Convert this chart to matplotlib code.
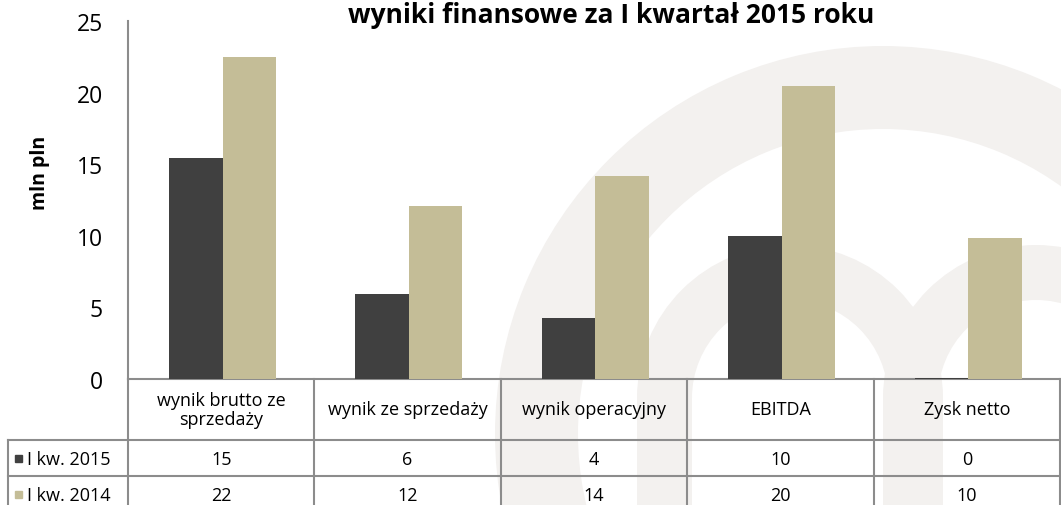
import matplotlib
matplotlib.use("Agg")
import matplotlib.pyplot as plt
from matplotlib.patches import Wedge, Rectangle
import numpy as np

plt.rcParams['font.family'] = ['Open Sans', 'DejaVu Sans']

# data
categories = ["wynik brutto ze\nsprzedaży", "wynik ze sprzedaży", "wynik operacyjny", "EBITDA", "Zysk netto"]
series_names = ["I kw. 2015", "I kw. 2014"]
values_2015 = [15.43, 5.94, 4.26, 9.99, 0.1]
values_2014 = [22.49, 12.08, 14.18, 20.46, 9.84]
yticks = [0, 5, 10, 15, 20, 25]
title = "wyniki finansowe za I kwartał 2015 roku"
ylabel = "mln pln"

colors = ["#404040", "#c4bd97"]
grid_col = "#8c8c8c"
wm_col = "#f3f1ef"

W, H = 1061, 506
fig = plt.figure(figsize=(W / 100, H / 100), dpi=100)

# background layer in pixel coordinates (watermark + table)
bg = fig.add_axes([0, 0, 1, 1], zorder=0)
bg.set_xlim(0, W)
bg.set_ylim(H, 0)
bg.axis("off")

# faint logo watermark
bg.add_patch(Wedge((883, 435), 388, 0, 360, width=83, color=wm_col, lw=0))
for cx in (790, 1036):
    bg.add_patch(Wedge((cx, 399), 153, 180, 360, width=55, color=wm_col, lw=0))
    bg.add_patch(Rectangle((cx - 153, 399), 55, 120, color=wm_col, lw=0))
    bg.add_patch(Rectangle((cx + 98, 399), 55, 120, color=wm_col, lw=0))

# plot area
L, R, T, B = 128, 1060, 22, 380
ax = fig.add_axes([L / W, 1 - B / H, (R - L) / W, (B - T) / H], zorder=2)
ax.set_facecolor("none")

n = len(categories)
x = np.arange(n) + 0.5
bw = 0.287
ax.bar(x - bw / 2 + 0.007, values_2015, bw, color=colors[0], zorder=3)
ax.bar(x + bw / 2 + 0.007, values_2014, bw, color=colors[1], zorder=3)

ax.set_xlim(0, n)
ax.set_ylim(0, 25)
ax.set_yticks(yticks)
ax.set_xticks([])
ax.tick_params(axis="y", length=0, pad=18, labelsize=16.5)
for s in ("top", "right", "bottom"):
    ax.spines[s].set_visible(False)
ax.spines["left"].set_color(grid_col)
ax.spines["left"].set_linewidth(1.5)

fig.text(611 / W, 1 - 23 / H, title, ha="center", va="baseline",
         fontsize=19, fontweight="bold")
fig.text(40 / W, 1 - 173 / H, ylabel, ha="center", va="center",
         rotation=90, fontsize=14, fontweight="bold")

# data table under the chart
col_w = (R - L) / n
rows_y = [B, 441, 477, 513]
lab_x0 = 8
lk = dict(color=grid_col, lw=1.5, zorder=3)
bg.plot([L, R], [rows_y[0], rows_y[0]], **lk)
for y in rows_y[1:]:
    bg.plot([lab_x0, R], [y, y], **lk)
bg.plot([lab_x0, lab_x0], [rows_y[1], H], **lk)
for i in range(n + 1):
    bg.plot([L + i * col_w, L + i * col_w], [rows_y[0], H], **lk)

for i, c in enumerate(categories):
    cx = L + (i + 0.5) * col_w
    bg.text(cx, (rows_y[0] + rows_y[1]) / 2, c, ha="center", va="center",
            fontsize=13, linespacing=1.05, zorder=4)
    for r, vals in enumerate([values_2015, values_2014]):
        bg.text(cx, (rows_y[r + 1] + rows_y[r + 2]) / 2 + 1, f"{vals[i]:.0f}",
                ha="center", va="center", fontsize=13, zorder=4)

for r, name in enumerate(series_names):
    yc = (rows_y[r + 1] + rows_y[r + 2]) / 2
    bg.add_patch(Rectangle((15, yc - 3.5), 7, 7, color=colors[r], zorder=4))
    bg.text(27, yc + 1, name, ha="left", va="center", fontsize=13, zorder=4)

fig.savefig("out.png", dpi=100)
